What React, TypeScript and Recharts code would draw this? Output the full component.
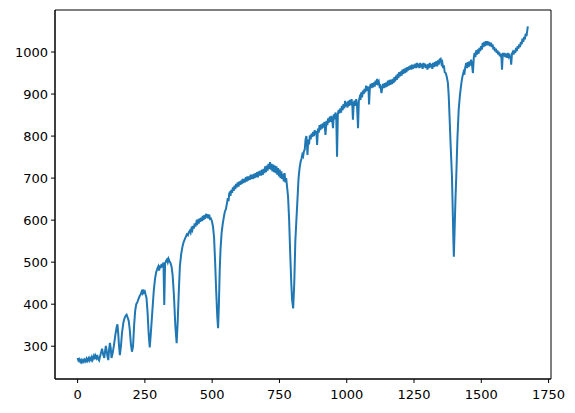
import React from 'react';
import { LineChart, Line, XAxis, YAxis, ReferenceArea } from 'recharts';

// [x, y] pairs, one array per growth cycle
const cycleOne: [number, number][] = [
  [0, 272], [3, 266], [6, 269], [10, 263], [13, 267], [16, 262], [20, 267], [23, 263],
  [26, 268], [30, 264], [33, 270], [36, 265], [40, 271], [43, 266], [46, 272], [50, 267],
  [53, 274], [56, 268], [60, 276], [63, 269], [66, 278], [70, 272], [73, 279], [76, 270],
  [80, 266], [83, 275], [86, 282], [91, 294], [95, 280], [99, 272], [102, 288], [105, 301],
  [108, 289], [111, 276], [114, 267], [117, 292], [120, 308], [123, 296], [126, 272], [130, 283],
  [135, 302], [140, 326], [145, 345], [148, 352], [151, 330], [154, 300], [157, 279], [161, 300],
  [165, 332], [170, 356], [174, 366], [178, 372], [182, 375], [186, 368], [190, 360], [194, 338],
  [198, 305], [202, 287], [206, 300], [210, 350], [214, 385], [218, 400], [222, 405], [226, 412],
  [231, 420], [235, 424], [238, 430], [241, 426], [244, 435], [247, 428], [250, 430], [253, 422],
  [256, 415], [260, 380], [264, 330], [268, 297], [272, 330], [278, 386], [283, 432], [288, 462],
  [292, 476], [296, 484], [300, 490], [303, 480], [306, 492], [309, 486], [312, 496], [315, 488],
  [319, 499], [322, 398], [325, 497], [328, 502], [332, 506], [335, 500], [338, 508], [341, 503],
  [345, 498], [349, 490], [353, 470], [358, 420], [363, 350], [368, 307], [372, 360], [376, 430],
  [380, 490],
];

const cycleTwo: [number, number][] = [
  [385, 520], [390, 538], [394, 548], [398, 554], [402, 560], [406, 566], [410, 564], [413, 571],
  [417, 575], [420, 570], [423, 580], [426, 576], [429, 586], [432, 580], [435, 592], [438, 585],
  [441, 594], [444, 588], [447, 602], [450, 592], [453, 604], [456, 596], [459, 606], [462, 598],
  [465, 610], [468, 600], [471, 612], [474, 603], [477, 615], [480, 606], [483, 614], [486, 604],
  [489, 613], [492, 603], [495, 604], [499, 598], [503, 585], [507, 560], [511, 500], [515, 430],
  [519, 370], [522, 343], [525, 400], [528, 480], [531, 530], [535, 569],
];

const cycleThree: [number, number][] = [
  [539, 590], [543, 606], [547, 620], [551, 626], [555, 640], [558, 652], [561, 645], [563, 662],
  [566, 668], [568, 658], [571, 672], [574, 665], [577, 678], [580, 670], [583, 682], [586, 674],
  [589, 686], [592, 678], [595, 690], [598, 680], [601, 692], [604, 684], [607, 694], [610, 686],
  [613, 698], [616, 688], [619, 698], [622, 690], [625, 702], [628, 692], [631, 704], [634, 694],
  [637, 704], [640, 696], [643, 708], [646, 698], [649, 708], [652, 698], [655, 710], [658, 700],
  [661, 712], [664, 702], [667, 714], [670, 702], [673, 716], [676, 706], [679, 718], [682, 706],
  [685, 720], [688, 708], [691, 722], [694, 712], [697, 728], [700, 714], [703, 730], [706, 718],
  [709, 734], [712, 722], [715, 738], [718, 720], [721, 734], [724, 716], [727, 732], [730, 714],
  [733, 730], [736, 712], [739, 728], [742, 708], [745, 724], [748, 704], [751, 720], [754, 700],
  [757, 716], [760, 698], [763, 710], [766, 692], [769, 712], [772, 690], [775, 700], [779, 675],
  [782, 656], [786, 600], [790, 520], [794, 450], [797, 410], [801, 390], [805, 450], [809, 550],
  [813, 601],
];

const cycleFour: [number, number][] = [
  [817, 650], [821, 700], [825, 725], [829, 740], [832, 746], [835, 756], [838, 752], [841, 764],
  [844, 768], [847, 792], [850, 800], [852, 785], [854, 755], [857, 792], [860, 780], [863, 802],
  [866, 792], [869, 806], [872, 798], [875, 810], [878, 800], [881, 814], [884, 804], [887, 812],
  [890, 779], [893, 818], [896, 808], [899, 826], [902, 814], [905, 828], [908, 818], [911, 830],
  [914, 820], [917, 834], [921, 803], [925, 836], [928, 826], [931, 842], [934, 832], [937, 846],
  [940, 834], [943, 848], [946, 838], [949, 819], [952, 852], [955, 840], [958, 856], [961, 848],
  [964, 751], [967, 852], [970, 862], [973, 854], [976, 866], [979, 856], [982, 872], [985, 862],
  [988, 876], [991, 866], [994, 884], [997, 870], [1000, 880], [1003, 868], [1006, 884], [1009, 872],
  [1012, 886], [1015, 874], [1018, 888], [1021, 870], [1023, 839], [1026, 878], [1029, 884], [1032, 872],
  [1035, 888], [1038, 876], [1042, 819], [1045, 884], [1048, 892], [1051, 886], [1054, 904], [1057, 892],
  [1060, 908], [1063, 900], [1066, 912], [1069, 904], [1072, 920], [1075, 908], [1078, 918], [1081, 910],
  [1083, 875], [1086, 916], [1089, 924], [1092, 914], [1095, 926], [1098, 916], [1101, 928], [1104, 918],
  [1107, 932], [1110, 922], [1113, 936], [1116, 926], [1119, 930], [1122, 918], [1125, 920], [1129, 902],
  [1132, 914], [1135, 924], [1138, 914], [1141, 926], [1144, 916], [1147, 928], [1150, 918], [1153, 932],
  [1156, 920], [1159, 934], [1162, 922], [1165, 934], [1168, 924], [1171, 936], [1174, 926], [1177, 940],
  [1180, 930], [1183, 944], [1186, 934], [1189, 948], [1192, 938], [1195, 952], [1198, 942], [1201, 954],
  [1204, 944], [1207, 958], [1210, 948], [1213, 960], [1216, 950], [1219, 962], [1222, 952], [1225, 964],
  [1228, 956], [1231, 966], [1234, 958], [1237, 968], [1240, 958], [1243, 970], [1246, 960], [1249, 970],
  [1252, 962], [1255, 972], [1258, 962], [1261, 974], [1264, 964], [1267, 972], [1270, 962], [1273, 974],
  [1276, 964], [1279, 972], [1282, 960], [1285, 974], [1288, 964], [1291, 972], [1294, 962], [1297, 970],
  [1300, 958], [1303, 972], [1306, 962], [1309, 974], [1312, 964], [1315, 972], [1318, 960], [1321, 974],
  [1324, 964], [1327, 976], [1330, 966], [1333, 978], [1336, 966], [1339, 980], [1342, 970], [1345, 982],
  [1349, 984], [1352, 972], [1355, 976], [1358, 962], [1361, 968], [1364, 952], [1368, 950], [1372, 940],
  [1376, 926], [1379, 895], [1382, 847], [1386, 780], [1391, 704], [1394, 620], [1396, 560], [1398, 513],
  [1401, 580], [1404, 650], [1407, 704], [1411, 790], [1416, 863],
];

const cycleFive: [number, number][] = [
  [1421, 900], [1426, 926], [1430, 942], [1434, 952], [1437, 946], [1440, 962], [1444, 974], [1447, 962],
  [1450, 976], [1453, 964], [1456, 978], [1459, 968], [1462, 982], [1465, 972], [1469, 950], [1472, 986],
  [1475, 998], [1478, 988], [1481, 1004], [1484, 994], [1487, 1006], [1490, 996], [1493, 1010], [1496, 1002],
  [1499, 1014], [1502, 1006], [1505, 1022], [1508, 1012], [1511, 1024], [1514, 1014], [1517, 1026], [1520, 1016],
  [1523, 1026], [1526, 1016], [1529, 1024], [1532, 1014], [1536, 1022], [1539, 1012], [1542, 1018], [1545, 1006],
  [1548, 1012], [1551, 1002], [1554, 1008], [1557, 998], [1560, 1004], [1563, 994], [1566, 1000], [1569, 990],
  [1572, 996], [1575, 985], [1577, 958], [1580, 998], [1583, 990], [1586, 998], [1589, 988], [1592, 996],
  [1595, 986], [1598, 998], [1601, 990], [1604, 996], [1607, 986], [1609, 985], [1611, 970], [1614, 996],
  [1617, 1000], [1620, 994], [1623, 1004], [1626, 998], [1629, 1010], [1632, 1002], [1635, 1014], [1638, 1008],
  [1641, 1018], [1644, 1012], [1647, 1024], [1650, 1018], [1653, 1032], [1656, 1024], [1659, 1036], [1662, 1030],
  [1665, 1044], [1668, 1038], [1671, 1052], [1673, 1061],
];

const xTicks = [0, 250, 500, 750, 1000, 1250, 1500, 1750];
const yTicks = [300, 400, 500, 600, 700, 800, 900, 1000];

const data = [...cycleOne, ...cycleTwo, ...cycleThree, ...cycleFour, ...cycleFive].map(([x, y]) => ({ x, y }));

const tickStyle = { fill: '#000', fontSize: 13, fontFamily: 'DejaVu Sans' };

export default function App() {
  return (
    <div style={{ position: 'absolute', left: 0, top: 0, background: '#fff' }}>
      <LineChart width={575} height={413} data={data} margin={{ top: 10, right: 24, left: 5, bottom: 4 }}>
        <XAxis
          dataKey="x"
          type="number"
          domain={[-84, 1759]}
          ticks={xTicks}
          allowDataOverflow
          height={30}
          tickSize={4}
          tickMargin={7}
          axisLine={{ stroke: '#000' }}
          tickLine={{ stroke: '#000' }}
          tick={tickStyle}
        />
        <YAxis
          type="number"
          domain={[222, 1100]}
          ticks={yTicks}
          allowDataOverflow
          width={50}
          tickSize={4}
          tickMargin={3}
          axisLine={{ stroke: '#000' }}
          tickLine={{ stroke: '#000' }}
          tick={tickStyle}
        />
        <ReferenceArea x1={-84} x2={1759} y1={222} y2={1100} fill="none" stroke="#000" strokeWidth={1} />
        <Line
          dataKey="y"
          type="linear"
          stroke="#1f77b4"
          strokeWidth={2}
          dot={false}
          isAnimationActive={false}
        />
      </LineChart>
    </div>
  );
}
